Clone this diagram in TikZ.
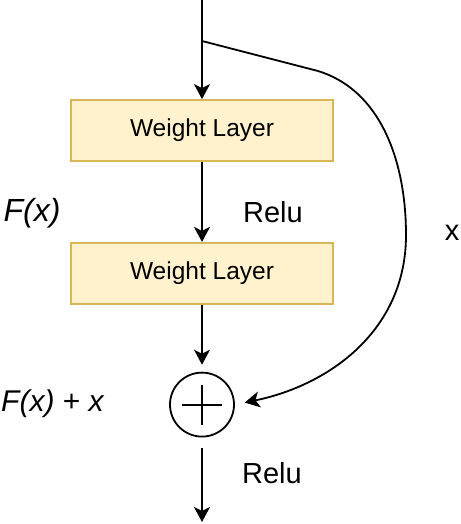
\documentclass[tikz,border=0pt]{standalone}
\usepackage{fontspec}
\setmainfont{Liberation Sans}
\usepackage{tikz}
\usetikzlibrary{positioning, arrows.meta, shapes}

\definecolor{layerfill}{HTML}{FFF2CC}
\definecolor{layerdraw}{HTML}{D6B656}

\begin{document}
\begin{tikzpicture}[x=1pt, y=-1pt, node distance=80pt,
    layer/.style={draw=layerdraw, fill=layerfill, line width=1.8pt, rectangle,
        minimum width=262pt, minimum height=61pt, font=\fontsize{24.5}{28}\selectfont},
    flow/.style={line width=1.8pt, -{Stealth[length=15pt, width=16pt, inset=4pt]}},
    lbl/.style={font=\fontsize{29}{32}\selectfont}]
    \useasboundingbox (0,0) rectangle (460,524);

    % Nodes
    \coordinate (Top) at (202,0);
    \coordinate (Split) at (202,41);
    \coordinate (Bend) at (318,71);
    \node[layer] (Layer1) at (202,130.5) {Weight Layer};
    \node[layer, below=of Layer1] (Layer2) {Weight Layer};
    \node[draw, circle, line width=1.8pt, minimum size=64pt, below=67pt of Layer2] (Sum) {};
    \coordinate (Out) at (202,522);

    % Labels
    \node[lbl] (Relu1) at (273,212) {Relu};
    \node[lbl] (Skip) at (452,233) {x};
    \node[lbl, font=\fontsize{32}{34}\selectfont\itshape] (Fx) at (32,213) {F(x)};
    \node[lbl, font=\fontsize{30}{34}\selectfont, anchor=west, inner sep=0pt] (Fxx) at (1,404)
        {\itshape F(x)\upshape{} + \itshape x};
    \node[lbl] (Relu2) at (272,473) {Relu};

    % Plus sign
    \draw[line width=1.8pt] ([xshift=-20pt]Sum.center) -- ([xshift=20pt]Sum.center);
    \draw[line width=1.8pt] ([yshift=20pt]Sum.center) -- ([yshift=-20pt]Sum.center);

    % Paths
    \draw[flow] (Top) -- (Layer1.north);
    \draw[flow] (Layer1.south) -- (Layer2.north);
    \draw[flow, shorten >=7pt] (Layer2.south) -- (Sum.north);
    \draw[flow, shorten <=10pt] (Sum.south) -- (Out);
    \draw[flow, shorten >=10pt] (Split) -- (Bend)
        .. controls (380,90) and (406,160) .. (406,235)
        .. controls (406,330) and (330,385) .. (Sum.east);
\end{tikzpicture}
\end{document}
